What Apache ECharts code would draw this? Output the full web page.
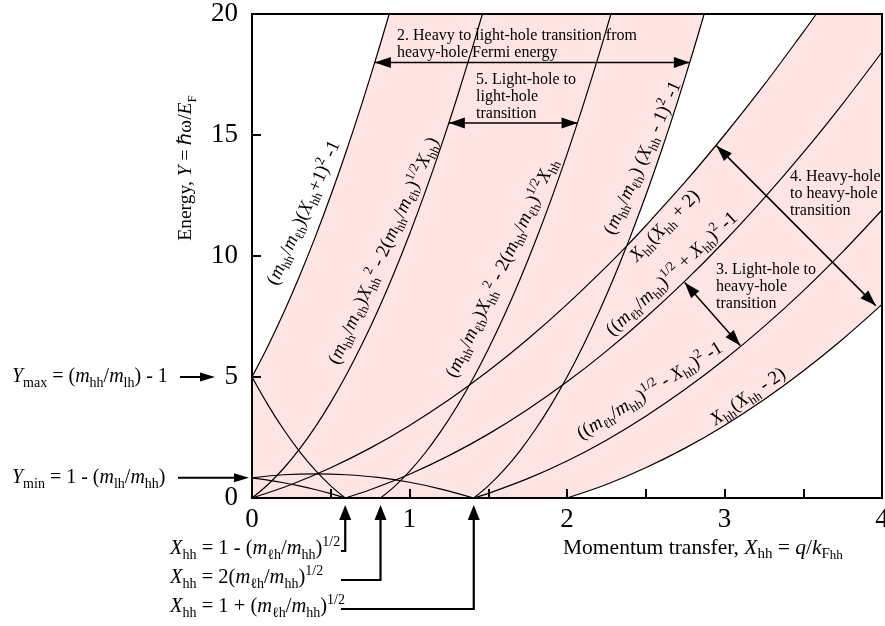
<!DOCTYPE html>
<html>
<head>
<meta charset="utf-8">
<script src="https://cdn.jsdelivr.net/npm/echarts@6/dist/echarts.min.js"></script>
<style>
  html, body { margin: 0; padding: 0; background: #fff; }
  #chart { width: 885px; height: 626px; }
</style>
</head>
<body>
<div id="chart"></div>
<script>
const FONT = 'Liberation Serif';
const PINK = '#ffe4e4';

// tick labels
const xTickLabels = [0, 1, 2, 3, 4];
const yTickLabels = [0, 5, 10, 15, 20];

// curves, [X_hh, Y]
// heavy -> light hole band (upper / lower edge)
const curveA = [[0, 5], [0.1, 6.26], [0.2, 7.64], [0.3, 9.14], [0.4, 10.76], [0.5, 12.5], [0.6, 14.36], [0.7, 16.34], [0.8, 18.44], [0.871, 20]];
const curveBLeft = [[0, 5], [0.1, 3.86], [0.2, 2.84], [0.3, 1.94], [0.4, 1.16], [0.5, 0.5], [0.592, 0]];
const curveBRight = [[1.408, 0], [1.5, 0.5], [1.6, 1.16], [1.7, 1.94], [1.8, 2.84], [1.9, 3.86], [2.0, 5], [2.1, 6.26], [2.2, 7.64], [2.3, 9.14], [2.38, 10.43], [2.4, 10.76], [2.5, 12.5], [2.6, 14.36], [2.7, 16.34], [2.8, 18.44], [2.871, 20]];
// light -> light hole band
const curveC = [[0, 0], [0.1, 0.55], [0.2, 1.22], [0.3, 2.01], [0.4, 2.92], [0.5, 3.95], [0.6, 5.1], [0.7, 6.37], [0.8, 7.76], [0.9, 9.27], [1.0, 10.9], [1.1, 12.65], [1.2, 14.52], [1.3, 16.51], [1.4, 18.62], [1.463, 20]];
const curveD = [[0.816, 0], [0.9, 0.45], [1.0, 1.1], [1.1, 1.87], [1.2, 2.76], [1.3, 3.77], [1.4, 4.9], [1.5, 6.15], [1.6, 7.52], [1.7, 9.01], [1.8, 10.62], [1.9, 12.35], [2.0, 14.2], [2.1, 16.17], [2.2, 18.26], [2.279, 20]];
// heavy -> heavy hole band
const curveE = [[0, 0], [0.25, 0.56], [0.5, 1.25], [0.75, 2.06], [1, 3], [1.25, 4.06], [1.5, 5.25], [1.75, 6.56], [2, 8], [2.25, 9.56], [2.38, 10.42], [2.5, 11.25], [2.75, 13.06], [3, 15], [3.25, 17.06], [3.5, 19.25], [3.583, 20]];
const curveF = [[2, 0], [2.25, 0.56], [2.5, 1.25], [2.75, 2.06], [3, 3], [3.25, 4.06], [3.5, 5.25], [3.75, 6.56], [4, 8]];
// light -> heavy hole band
const curveG = [[0.592, 0], [0.75, 0.34], [1, 0.98], [1.25, 1.75], [1.5, 2.64], [1.75, 3.66], [2, 4.8], [2.25, 6.07], [2.5, 7.46], [2.75, 8.97], [3, 10.61], [3.25, 12.38], [3.5, 14.27], [3.75, 16.29], [4, 18.43]];
const curveH = [[1.408, 0], [1.5, 0.19], [1.75, 0.8], [2, 1.53], [2.25, 2.39], [2.5, 3.38], [2.75, 4.49], [3, 5.72], [3.25, 7.08], [3.5, 8.56], [3.75, 10.17], [4, 11.9]];
const curveI = [[0, 0.83], [0.2, 0.96], [0.408, 1], [0.6, 0.96], [0.8, 0.85], [1, 0.65], [1.2, 0.37], [1.408, 0]];
const curveJ = [[0, 0.83], [0.1, 0.74], [0.2, 0.63], [0.3, 0.5], [0.4, 0.35], [0.5, 0.18], [0.592, 0]];

// marked X positions under the axis and Y positions at the left
const xMarks = [0.592, 0.816, 1.408];
const yMax = 5;
const yMin = 0.833;

const chart = echarts.init(document.getElementById('chart'));

function curve(data) {
  return {
    type: 'line', data: data, symbol: 'none', smooth: 0.33, silent: true, z: 3,
    lineStyle: { color: '#000', width: 1.2 }
  };
}

// shading pieces
const pinkTop = curveA.concat([[4, 20]]);
const wedgeLow = curveE.filter(d => d[0] >= 2.38);
const wedgeHigh = curveBRight.filter(d => d[0] >= 2.38).reverse();

const option = {
  animation: false,
  backgroundColor: '#fff',
  grid: { left: 252, right: 3, top: 14, bottom: 128, containLabel: false, outerBoundsMode: 'none' },
  xAxis: {
    type: 'value', min: 0, max: 4, interval: 0.5, z: 10,
    axisLine: { lineStyle: { color: '#000', width: 2 } },
    axisTick: { inside: true, length: 9, lineStyle: { color: '#000', width: 2 } },
    axisLabel: {
      margin: 8, color: '#000', fontFamily: FONT, fontSize: 27,
      formatter: v => xTickLabels.includes(v) ? String(v) : ''
    },
    splitLine: { show: false }
  },
  yAxis: {
    type: 'value', min: 0, max: 20, interval: 5, z: 10,
    axisLine: { show: true, lineStyle: { color: '#000', width: 2 } },
    axisTick: { show: true, inside: true, length: 9, lineStyle: { color: '#000', width: 2 } },
    axisLabel: {
      margin: 14, color: '#000', fontFamily: FONT, fontSize: 27,
      formatter: v => yTickLabels.includes(v) ? String(v) : ''
    },
    splitLine: { show: false }
  },
  series: [
    {
      type: 'line', data: pinkTop, symbol: 'none', silent: true, z: 1,
      lineStyle: { width: 0, opacity: 0 }, areaStyle: { color: PINK, opacity: 1 }
    },
    {
      type: 'line', data: curveF, symbol: 'none', silent: true, z: 1,
      lineStyle: { width: 0, opacity: 0 }, areaStyle: { color: '#fff', opacity: 1 }
    },
    {
      type: 'custom', data: [[3, 15]], silent: true, z: 1,
      renderItem: (params, api) => ({
        type: 'polygon',
        shape: { points: wedgeLow.concat(wedgeHigh).map(d => api.coord(d)) },
        style: { fill: '#fff' }
      })
    },
    curve(curveA), curve(curveBLeft), curve(curveBRight), curve(curveC), curve(curveD),
    curve(curveE), curve(curveF), curve(curveG), curve(curveH), curve(curveI), curve(curveJ)
  ]
};
chart.setOption(option);

// ---------- annotations ----------
function rich(size) {
  const sub = Math.round(size * 0.68);
  return {
    n: { fontFamily: FONT, fontSize: size, lineHeight: size + 6 },
    i: { fontFamily: FONT, fontSize: size, fontStyle: 'italic', lineHeight: size + 6 },
    s: { fontFamily: FONT, fontSize: sub, verticalAlign: 'bottom', lineHeight: sub },
    p: { fontFamily: FONT, fontSize: sub, verticalAlign: 'top', lineHeight: sub },
    q: { fontFamily: FONT, fontSize: sub - 2, verticalAlign: 'bottom', lineHeight: sub - 2 }
  };
}

function rtext(text, x, y, size, rot, align) {
  return {
    type: 'text', x: x, y: y, rotation: (rot || 0) * Math.PI / 180, z: 100, silent: true,
    style: {
      text: text, rich: rich(size), fontFamily: FONT, fontSize: size, fill: '#000',
      align: align || 'center', verticalAlign: 'middle'
    }
  };
}

function ptext(text, x, y, size) {
  return {
    type: 'text', x: x, y: y, z: 100, silent: true,
    style: { text: text, fontFamily: FONT, fontSize: size, lineHeight: 17, fill: '#000', align: 'left', verticalAlign: 'top' }
  };
}

function head(tip, from, len, half) {
  const dx = tip[0] - from[0], dy = tip[1] - from[1];
  const d = Math.hypot(dx, dy), ux = dx / d, uy = dy / d;
  const bx = tip[0] - ux * len, by = tip[1] - uy * len;
  return {
    type: 'polygon', z: 101, silent: true,
    shape: { points: [tip, [bx - uy * half, by + ux * half], [bx + uy * half, by - ux * half]] },
    style: { fill: '#000' }
  };
}

function seg(a, b, w) {
  return { type: 'line', z: 100, silent: true, shape: { x1: a[0], y1: a[1], x2: b[0], y2: b[1] }, style: { stroke: '#000', lineWidth: w } };
}

function dblArrow(a, b) {
  return [seg(a, b, 1.5), head(a, b, 16, 5.5), head(b, a, 16, 5.5)];
}

const P = (x, y) => chart.convertToPixel({ gridIndex: 0 }, [x, y]);

const o = P(0, 0), c = P(4, 20);
const g = [];
// frame
g.push({ type: 'rect', z: 99, silent: true, shape: { x: o[0], y: c[1], width: c[0] - o[0], height: o[1] - c[1] }, style: { fill: 'none', stroke: '#000', lineWidth: 2 } });

// transition arrows
g.push(...dblArrow(P(0.78, 18), P(2.78, 18)));
g.push(...dblArrow(P(1.25, 15.5), P(2.067, 15.5)));
g.push(...dblArrow(P(2.95, 14.55), P(3.96, 7.95)));
g.push(...dblArrow(P(2.747, 8.9), P(3.10, 6.3)));

// transition notes
g.push(ptext('2. Heavy to light-hole transition from\nheavy-hole Fermi energy', 397, 27, 16));
g.push(ptext('5. Light-hole to\nlight-hole\ntransition', 476, 71, 16));
g.push(ptext('4. Heavy-hole\nto heavy-hole\ntransition', 790, 168, 16));
g.push(ptext('3. Light-hole to\nheavy-hole\ntransition', 716, 261, 16));

// curve labels
const CL = 19;
g.push(rtext('{n|(}{i|m}{s|hh}{n|/}{i|m}{s|ℓh}{n|)(}{i|X}{s|hh}{n|+1)}{p|2}{n| -1}', 304, 213, CL, 66));
g.push(rtext('{n|(}{i|m}{s|hh}{n|/}{i|m}{s|ℓh}{n|)}{i|X}{s|hh}{p|2}{n| - 2(}{i|m}{s|hh}{n|/}{i|m}{s|ℓh}{n|)}{p|1/2}{i|X}{s|hh}{n|)}', 384, 251, CL, 66));
g.push(rtext('{n|(}{i|m}{s|hh}{n|/}{i|m}{s|ℓh}{n|)}{i|X}{s|hh}{p|2}{n| - 2(}{i|m}{s|hh}{n|/}{i|m}{s|ℓh}{n|)}{p|1/2}{i|X}{s|hh}', 502, 268, CL, 65));
g.push(rtext('{n|(}{i|m}{s|hh}{n|/}{i|m}{s|ℓh}{n|) (}{i|X}{s|hh}{n| - 1)}{p|2}{n| -1}', 643, 158, CL, 66));
g.push(rtext('{i|X}{s|hh}{n|(}{i|X}{s|hh}{n| + 2)}', 665, 226, CL, 46));
g.push(rtext('{n|((}{i|m}{s|ℓh}{n|/}{i|m}{s|hh}{n|)}{p|1/2}{n| + }{i|X}{s|hh}{n|)}{p|2}{n| -1}', 672, 274, CL, 43));
g.push(rtext('{n|((}{i|m}{s|ℓh}{n|/}{i|m}{s|hh}{n|)}{p|1/2}{n| - }{i|X}{s|hh}{n|)}{p|2}{n| -1}', 650, 391, CL, 32));
g.push(rtext('{i|X}{s|hh}{n|(}{i|X}{s|hh}{n| - 2)}', 748, 397, CL, 35));

// axis titles
g.push(rtext('{n|Energy, }{i|Y}{n| = ℏω/}{i|E}{s|F}', 186, 168, 19.5, 90));
g.push(rtext('{n|Momentum transfer, }{i|X}{s|hh}{n| = }{i|q}{n|/}{i|k}{s|F}{q|hh}', 563, 548, 21.5, 0, 'left'));

// Y markers at the left
const yMaxPx = P(0, yMax)[1], yMinPx = P(0, yMin)[1];
g.push(rtext('{i|Y}{s|max}{n| = (}{i|m}{s|hh}{n|/}{i|m}{s|lh}{n|) - 1}', 12, yMaxPx, 20, 0, 'left'));
g.push(seg([180, yMaxPx], [205, yMaxPx], 2), head([215, yMaxPx], [180, yMaxPx], 15, 4.5));
g.push(rtext('{i|Y}{s|min}{n| = 1 - (}{i|m}{s|lh}{n|/}{i|m}{s|hh}{n|)}', 12, yMinPx, 20, 0, 'left'));
g.push(seg([178, yMinPx], [238, yMinPx], 2), head([249, yMinPx], [178, yMinPx], 15, 4.5));

// X markers under the axis
const xLabels = [
  '{i|X}{s|hh}{n| = 1 - (}{i|m}{s|ℓh}{n|/}{i|m}{s|hh}{n|)}{p|1/2}',
  '{i|X}{s|hh}{n| = 2(}{i|m}{s|ℓh}{n|/}{i|m}{s|hh}{n|)}{p|1/2}',
  '{i|X}{s|hh}{n| = 1 + (}{i|m}{s|ℓh}{n|/}{i|m}{s|hh}{n|)}{p|1/2}'
];
const xLabelY = [549, 578, 607];
xMarks.forEach((xv, k) => {
  const ax = P(xv, 0)[0], ly = xLabelY[k];
  g.push(rtext(xLabels[k], 170, ly, 20.5, 0, 'left'));
  g.push({ type: 'polyline', z: 100, silent: true, shape: { points: [[341, ly + 2], [ax, ly + 2], [ax, o[1] + 20]] }, style: { stroke: '#000', lineWidth: 2.2, fill: 'none' } });
  g.push(head([ax, o[1] + 7], [ax, ly], 15, 6));
});

chart.setOption({ graphic: g });
</script>
</body>
</html>
